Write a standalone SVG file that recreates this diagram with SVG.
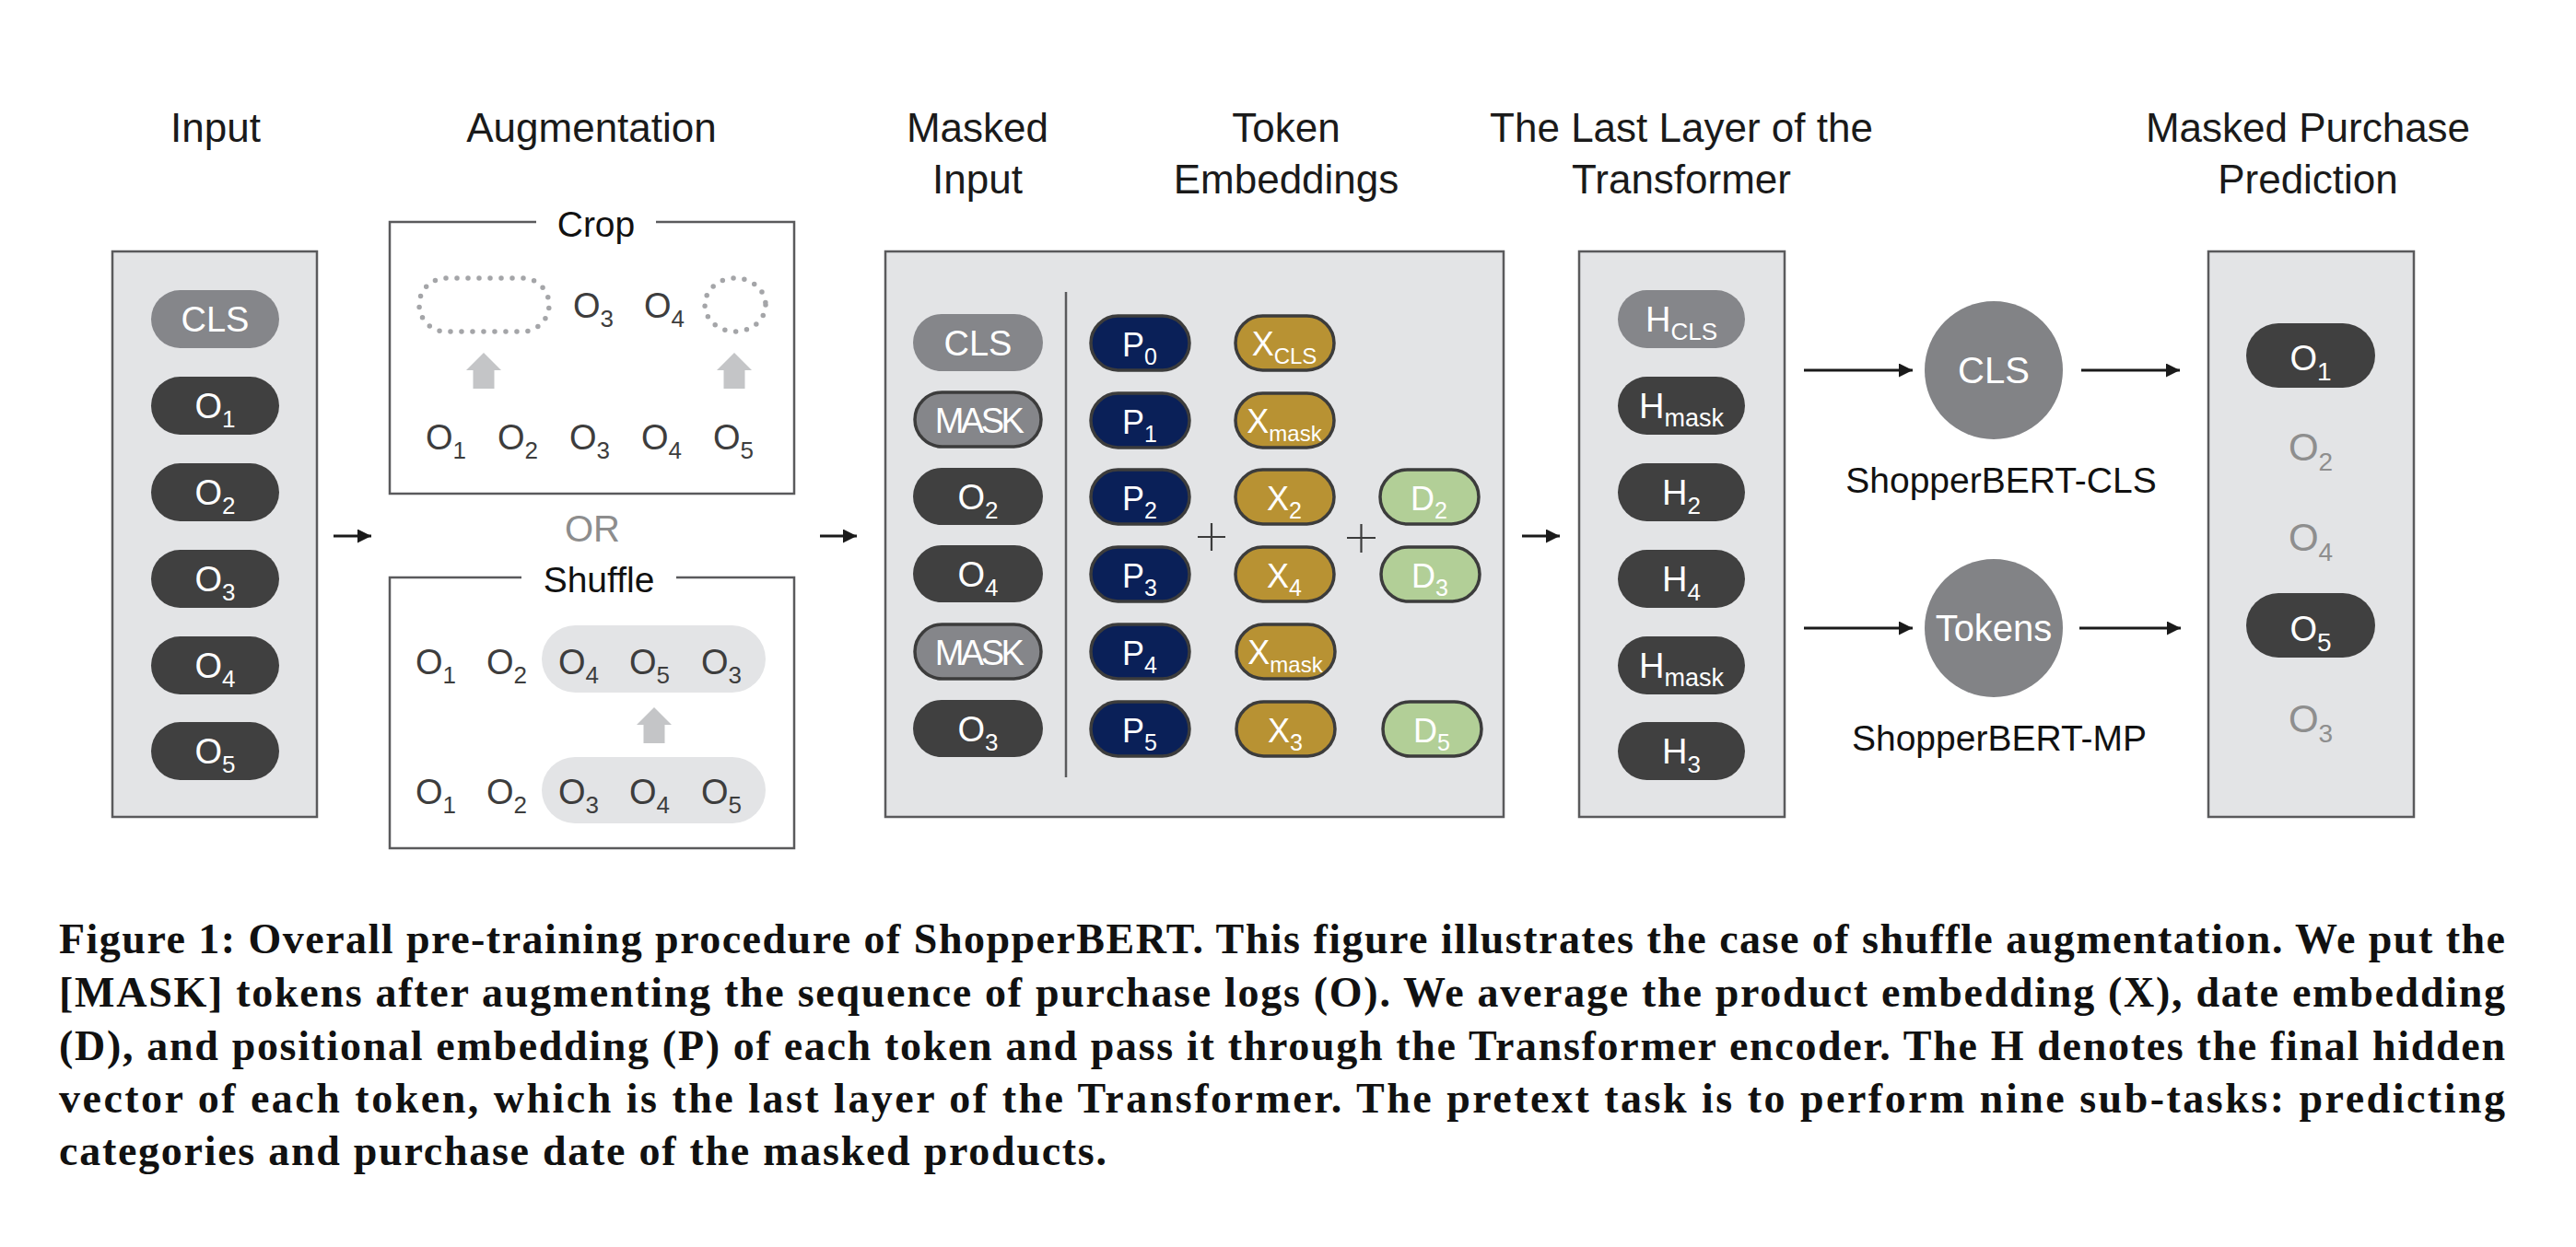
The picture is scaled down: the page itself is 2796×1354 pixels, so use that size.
<svg xmlns="http://www.w3.org/2000/svg" width="2796" height="1354" viewBox="0 0 2796 1354">
<defs>
<style>
.t{font-family:"Liberation Sans",Arial,Helvetica,sans-serif}
.title{font-size:44px;fill:#1a1a1a;text-anchor:middle}
.box{fill:#e3e4e6;stroke:#5a5a5c;stroke-width:2.5}
.wbox{fill:none;stroke:#5a5a5c;stroke-width:2.5}
.pd{fill:#404040}
.pg{fill:#85868a}
.pm{fill:#85868a;stroke:#3c3c3c;stroke-width:3.5}
.pp{fill:#0a2058;stroke:#3c3c3c;stroke-width:3.5}
.px{fill:#b89233;stroke:#3c3c3c;stroke-width:3.5}
.pdg{fill:#b2cf97;stroke:#3c3c3c;stroke-width:3.5}
.pt{font-size:38px;fill:#fff;text-anchor:middle}
.et{font-size:36px;fill:#fff;text-anchor:middle}
.rt{font-size:38px;fill:#3d3d3d;text-anchor:middle}
.gt{font-size:42px;fill:#8e8e8e;text-anchor:middle}
.lbl{font-size:39px;fill:#111;text-anchor:middle}
.dot{fill:none;stroke:#a4a5a8;stroke-width:5.5;stroke-linecap:round;stroke-dasharray:0 12}
.up{fill:#c4c5c7}
.conn{stroke:#1a1a1a;stroke-width:3;fill:none}
.cap{font-family:"Liberation Serif","Times New Roman",serif;font-weight:bold;font-size:46px;fill:#111}
</style>
<marker id="ah" markerUnits="userSpaceOnUse" markerWidth="16" markerHeight="16" refX="15" refY="7.5" orient="auto">
<path d="M0,0 L15,7.5 L0,15 z" fill="#1a1a1a"/>
</marker>
<path id="uparrow" d="M0,0 L19,19 L11.5,19 L11.5,39 L-11.5,39 L-11.5,19 L-19,19 z"/>
</defs>
<rect width="2796" height="1354" fill="#fff"/>

<!-- Titles -->
<g id="titles" class="t">
<text class="title" x="234" y="154">Input</text>
<text class="title" x="642" y="154">Augmentation</text>
<text class="title" x="1061" y="154">Masked</text>
<text class="title" x="1061" y="210">Input</text>
<text class="title" x="1396" y="154">Token</text>
<text class="title" x="1396" y="210">Embeddings</text>
<text class="title" x="1825" y="154">The Last Layer of the</text>
<text class="title" x="1825" y="210">Transformer</text>
<text class="title" x="2505" y="154">Masked Purchase</text>
<text class="title" x="2505" y="210">Prediction</text>
</g>

<!-- Input column -->
<g id="input" class="t">
<rect class="box" x="122" y="273" width="222" height="614"/>
<rect class="pg" x="164" y="315" width="139" height="63" rx="31.5"/>
<text class="pt" x="233.5" y="360">CLS</text>
<rect class="pd" x="164" y="409" width="139" height="63" rx="31.5"/>
<text class="pt" x="233.5" y="454">O<tspan font-size="26" dy="10">1</tspan></text>
<rect class="pd" x="164" y="503" width="139" height="63" rx="31.5"/>
<text class="pt" x="233.5" y="548">O<tspan font-size="26" dy="10">2</tspan></text>
<rect class="pd" x="164" y="597" width="139" height="63" rx="31.5"/>
<text class="pt" x="233.5" y="642">O<tspan font-size="26" dy="10">3</tspan></text>
<rect class="pd" x="164" y="691" width="139" height="63" rx="31.5"/>
<text class="pt" x="233.5" y="736">O<tspan font-size="26" dy="10">4</tspan></text>
<rect class="pd" x="164" y="784" width="139" height="63" rx="31.5"/>
<text class="pt" x="233.5" y="829">O<tspan font-size="26" dy="10">5</tspan></text>
</g>

<!-- Augmentation: Crop -->
<g id="crop" class="t">
<path class="wbox" d="M582,241 H423 V536 H862 V241 H712"/>
<text class="lbl" x="647" y="257" font-size="40">Crop</text>
<rect class="dot" x="455" y="302" width="141" height="58" rx="29"/>
<ellipse class="dot" cx="798" cy="331" rx="33" ry="29"/>
<text class="rt" x="644" y="345">O<tspan font-size="26" dy="10">3</tspan></text>
<text class="rt" x="721" y="345">O<tspan font-size="26" dy="10">4</tspan></text>
<use href="#uparrow" class="up" x="525" y="383"/>
<use href="#uparrow" class="up" x="797" y="383"/>
<text class="rt" x="484" y="488">O<tspan font-size="26" dy="10">1</tspan></text>
<text class="rt" x="562" y="488">O<tspan font-size="26" dy="10">2</tspan></text>
<text class="rt" x="640" y="488">O<tspan font-size="26" dy="10">3</tspan></text>
<text class="rt" x="718" y="488">O<tspan font-size="26" dy="10">4</tspan></text>
<text class="rt" x="796" y="488">O<tspan font-size="26" dy="10">5</tspan></text>
</g>

<text class="t" x="643" y="588" font-size="40" fill="#8d8d8d" text-anchor="middle">OR</text>

<!-- Augmentation: Shuffle -->
<g id="shuffle" class="t">
<path class="wbox" d="M566,627 H423 V921 H862 V627 H734"/>
<text class="lbl" x="650" y="643" font-size="40">Shuffle</text>
<rect fill="#e3e4e6" x="588" y="679" width="243" height="73" rx="36.5"/>
<rect fill="#e3e4e6" x="588" y="822" width="243" height="72" rx="36"/>
<text class="rt" x="473" y="732">O<tspan font-size="26" dy="10">1</tspan></text>
<text class="rt" x="550" y="732">O<tspan font-size="26" dy="10">2</tspan></text>
<text class="rt" x="628" y="732">O<tspan font-size="26" dy="10">4</tspan></text>
<text class="rt" x="705" y="732">O<tspan font-size="26" dy="10">5</tspan></text>
<text class="rt" x="783" y="732">O<tspan font-size="26" dy="10">3</tspan></text>
<use href="#uparrow" class="up" x="710" y="768"/>
<text class="rt" x="473" y="873">O<tspan font-size="26" dy="10">1</tspan></text>
<text class="rt" x="550" y="873">O<tspan font-size="26" dy="10">2</tspan></text>
<text class="rt" x="628" y="873">O<tspan font-size="26" dy="10">3</tspan></text>
<text class="rt" x="705" y="873">O<tspan font-size="26" dy="10">4</tspan></text>
<text class="rt" x="783" y="873">O<tspan font-size="26" dy="10">5</tspan></text>
</g>

<!-- Masked input + token embeddings -->
<g id="masked" class="t">
<rect class="box" x="961" y="273" width="671" height="614"/>
<line x1="1157" y1="317" x2="1157" y2="844" stroke="#5a5a5c" stroke-width="2.5"/>
<!-- masked input column -->
<rect class="pg" x="991" y="341" width="141" height="62" rx="31"/>
<text class="pt" x="1061.5" y="386">CLS</text>
<rect class="pm" x="993" y="426" width="137" height="59" rx="29.5"/>
<text class="pt" x="1061.5" y="470" letter-spacing="-3.5">MASK</text>
<rect class="pd" x="991" y="508" width="141" height="62" rx="31"/>
<text class="pt" x="1061.5" y="553">O<tspan font-size="26" dy="10">2</tspan></text>
<rect class="pd" x="991" y="592" width="141" height="62" rx="31"/>
<text class="pt" x="1061.5" y="637">O<tspan font-size="26" dy="10">4</tspan></text>
<rect class="pm" x="993" y="678" width="137" height="59" rx="29.5"/>
<text class="pt" x="1061.5" y="722" letter-spacing="-3.5">MASK</text>
<rect class="pd" x="991" y="760" width="141" height="62" rx="31"/>
<text class="pt" x="1061.5" y="805">O<tspan font-size="26" dy="10">3</tspan></text>
<!-- P column -->
<rect class="pp" x="1184" y="343" width="107" height="59" rx="29.5"/>
<text class="et" x="1237" y="387">P<tspan font-size="25" dy="9">0</tspan></text>
<rect class="pp" x="1184" y="427" width="107" height="59" rx="29.5"/>
<text class="et" x="1237" y="471">P<tspan font-size="25" dy="9">1</tspan></text>
<rect class="pp" x="1184" y="510" width="107" height="59" rx="29.5"/>
<text class="et" x="1237" y="554">P<tspan font-size="25" dy="9">2</tspan></text>
<rect class="pp" x="1184" y="594" width="107" height="59" rx="29.5"/>
<text class="et" x="1237" y="638">P<tspan font-size="25" dy="9">3</tspan></text>
<rect class="pp" x="1184" y="678" width="107" height="59" rx="29.5"/>
<text class="et" x="1237" y="722">P<tspan font-size="25" dy="9">4</tspan></text>
<rect class="pp" x="1184" y="762" width="107" height="59" rx="29.5"/>
<text class="et" x="1237" y="806">P<tspan font-size="25" dy="9">5</tspan></text>
<!-- X column -->
<rect class="px" x="1341" y="343" width="107" height="59" rx="29.5"/>
<text class="et" x="1394" y="386">X<tspan font-size="24" dy="9">CLS</tspan></text>
<rect class="px" x="1341" y="427" width="107" height="59" rx="29.5"/>
<text class="et" x="1394" y="470">X<tspan font-size="24" dy="9">mask</tspan></text>
<rect class="px" x="1341" y="510" width="107" height="59" rx="29.5"/>
<text class="et" x="1394" y="554">X<tspan font-size="25" dy="9">2</tspan></text>
<rect class="px" x="1341" y="594" width="107" height="59" rx="29.5"/>
<text class="et" x="1394" y="638">X<tspan font-size="25" dy="9">4</tspan></text>
<rect class="px" x="1342" y="678" width="107" height="59" rx="29.5"/>
<text class="et" x="1395" y="721">X<tspan font-size="24" dy="9">mask</tspan></text>
<rect class="px" x="1342" y="762" width="107" height="59" rx="29.5"/>
<text class="et" x="1395" y="806">X<tspan font-size="25" dy="9">3</tspan></text>
<!-- D column -->
<rect class="pdg" x="1498" y="510" width="107" height="59" rx="29.5"/>
<text class="et" x="1551" y="554">D<tspan font-size="25" dy="9">2</tspan></text>
<rect class="pdg" x="1499" y="594" width="107" height="59" rx="29.5"/>
<text class="et" x="1552" y="638">D<tspan font-size="25" dy="9">3</tspan></text>
<rect class="pdg" x="1501" y="762" width="107" height="59" rx="29.5"/>
<text class="et" x="1554" y="806">D<tspan font-size="25" dy="9">5</tspan></text>
<!-- plus signs -->
<path d="M1300,583 H1330 M1315,568 V598 M1462,584 H1493 M1477.5,569 V600" stroke="#3c3c3c" stroke-width="2.2" fill="none"/>
</g>

<!-- Transformer last layer -->
<g id="transformer" class="t">
<rect class="box" x="1714" y="273" width="223" height="614"/>
<rect class="pg" x="1756" y="315" width="138" height="63" rx="31.5"/>
<text class="pt" x="1825" y="360">H<tspan font-size="26" dy="9">CLS</tspan></text>
<rect class="pd" x="1756" y="409" width="138" height="63" rx="31.5"/>
<text class="pt" x="1825" y="454">H<tspan font-size="27" dy="9">mask</tspan></text>
<rect class="pd" x="1756" y="503" width="138" height="63" rx="31.5"/>
<text class="pt" x="1825" y="548">H<tspan font-size="26" dy="10">2</tspan></text>
<rect class="pd" x="1756" y="597" width="138" height="63" rx="31.5"/>
<text class="pt" x="1825" y="642">H<tspan font-size="26" dy="10">4</tspan></text>
<rect class="pd" x="1756" y="691" width="138" height="63" rx="31.5"/>
<text class="pt" x="1825" y="736">H<tspan font-size="27" dy="9">mask</tspan></text>
<rect class="pd" x="1756" y="784" width="138" height="63" rx="31.5"/>
<text class="pt" x="1825" y="829">H<tspan font-size="26" dy="10">3</tspan></text>
</g>

<!-- Heads -->
<g id="cls-head" class="t">
<circle cx="2164" cy="402" r="75" fill="#828386"/>
<text x="2164" y="416" font-size="40" fill="#fff" text-anchor="middle">CLS</text>
<text class="lbl" x="2172" y="535">ShopperBERT-CLS</text>
</g>
<g id="tokens-head" class="t">
<circle cx="2164" cy="682" r="75" fill="#828386"/>
<text x="2164" y="696" font-size="40" fill="#fff" text-anchor="middle">Tokens</text>
<text class="lbl" x="2170" y="815">ShopperBERT-MP</text>
</g>

<!-- Prediction -->
<g id="prediction" class="t">
<rect class="box" x="2397" y="273" width="223" height="614"/>
<rect class="pd" x="2438" y="351" width="140" height="70" rx="35"/>
<text class="pt" x="2508" y="402" font-size="42">O<tspan font-size="28" dy="11">1</tspan></text>
<text class="gt" x="2508" y="500">O<tspan font-size="28" dy="11">2</tspan></text>
<text class="gt" x="2508" y="598">O<tspan font-size="28" dy="11">4</tspan></text>
<rect class="pd" x="2438" y="644" width="140" height="70" rx="35"/>
<text class="pt" x="2508" y="696" font-size="42">O<tspan font-size="28" dy="11">5</tspan></text>
<text class="gt" x="2508" y="795">O<tspan font-size="28" dy="11">3</tspan></text>
</g>

<!-- Connectors -->
<g id="connectors">
<line class="conn" x1="362" y1="582" x2="403" y2="582" marker-end="url(#ah)"/>
<line class="conn" x1="890" y1="582" x2="930" y2="582" marker-end="url(#ah)"/>
<line class="conn" x1="1652" y1="582" x2="1693" y2="582" marker-end="url(#ah)"/>
<line class="conn" x1="1958" y1="402" x2="2076" y2="402" marker-end="url(#ah)"/>
<line class="conn" x1="2259" y1="402" x2="2366" y2="402" marker-end="url(#ah)"/>
<line class="conn" x1="1958" y1="682" x2="2076" y2="682" marker-end="url(#ah)"/>
<line class="conn" x1="2257" y1="682" x2="2367" y2="682" marker-end="url(#ah)"/>
</g>

<!-- Caption -->
<g id="caption">
<text class="cap" x="64" y="1035" textLength="2655" lengthAdjust="spacing">Figure 1: Overall pre-training procedure of ShopperBERT. This figure illustrates the case of shuffle augmentation. We put the</text>
<text class="cap" x="64" y="1093" textLength="2655" lengthAdjust="spacing">[MASK] tokens after augmenting the sequence of purchase logs (O). We average the product embedding (X), date embedding</text>
<text class="cap" x="64" y="1151" textLength="2655" lengthAdjust="spacing">(D), and positional embedding (P) of each token and pass it through the Transformer encoder. The H denotes the final hidden</text>
<text class="cap" x="64" y="1208" textLength="2655" lengthAdjust="spacing">vector of each token, which is the last layer of the Transformer. The pretext task is to perform nine sub-tasks: predicting</text>
<text class="cap" x="64" y="1265" textLength="1137" lengthAdjust="spacing">categories and purchase date of the masked products.</text>
</g>
</svg>
